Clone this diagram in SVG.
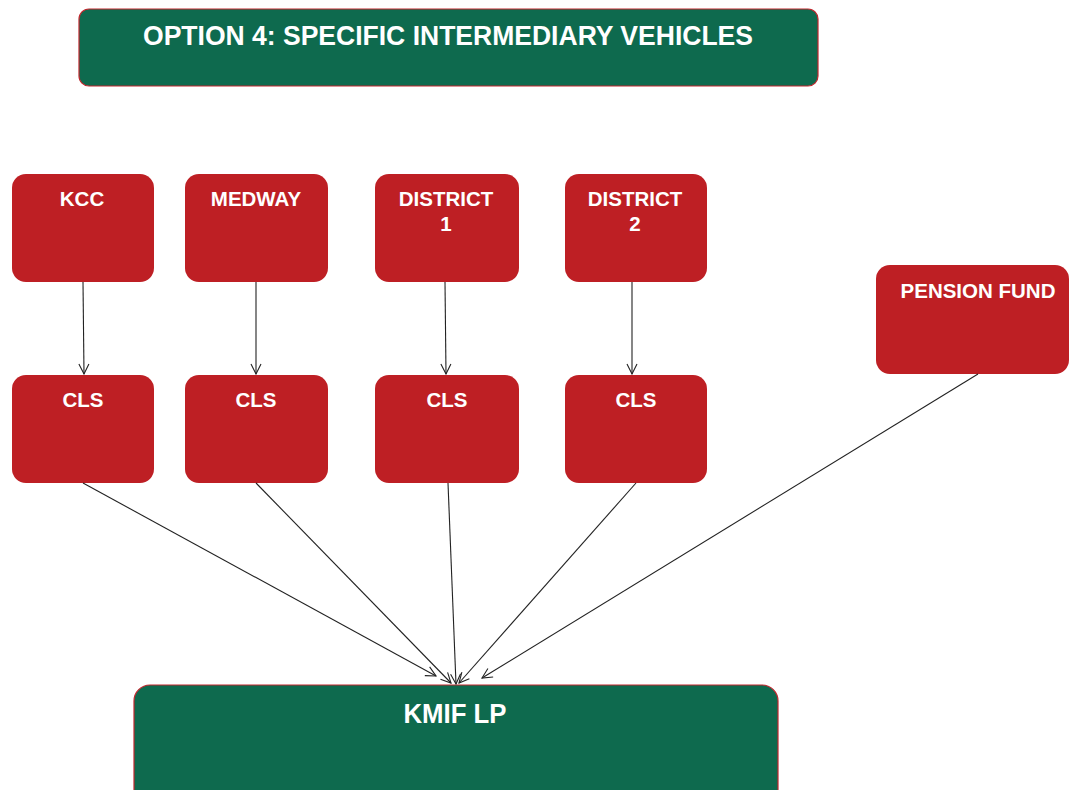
<svg xmlns="http://www.w3.org/2000/svg" width="1070" height="790" viewBox="0 0 1070 790">
<defs>
<marker id="ah" viewBox="0 0 12 12" refX="11" refY="6" markerWidth="12" markerHeight="12" markerUnits="userSpaceOnUse" orient="auto">
<path d="M1,1 L11,6 L1,11" fill="none" stroke="#222" stroke-width="1.1"/>
</marker>
<style>
.red{fill:#BE1F24;}
.grn{fill:#0E6A4E;stroke:#C0272D;stroke-width:1.2;}
.t{font-family:"Liberation Sans",Arial,sans-serif;font-weight:bold;fill:#fff;font-size:20.5px;text-anchor:middle;}
.tg{font-family:"Liberation Sans Narrow","Liberation Sans",Arial,sans-serif;font-weight:bold;fill:#fff;font-size:27px;text-anchor:middle;}
.c{stroke:#222;stroke-width:1.1;fill:none;marker-end:url(#ah);}
</style>
</defs>
<rect width="1070" height="790" fill="#fff"/>
<g id="title"><rect class="grn" x="79" y="9" width="739" height="77" rx="10"/><text class="tg" x="448" y="45" textLength="610" lengthAdjust="spacingAndGlyphs">OPTION 4: SPECIFIC INTERMEDIARY VEHICLES</text></g>
<g id="kcc"><rect class="red" x="12" y="174" width="142" height="108" rx="14"/><text class="t" x="82" y="206">KCC</text></g>
<g id="medway"><rect class="red" x="185" y="174" width="143" height="108" rx="14"/><text class="t" x="256" y="206">MEDWAY</text></g>
<g id="district1"><rect class="red" x="375" y="174" width="144" height="108" rx="14"/><text class="t" x="446" y="206">DISTRICT</text><text class="t" x="446" y="231">1</text></g>
<g id="district2"><rect class="red" x="565" y="174" width="142" height="108" rx="14"/><text class="t" x="635" y="206">DISTRICT</text><text class="t" x="635" y="231">2</text></g>
<g id="pension"><rect class="red" x="876" y="265" width="193" height="109" rx="14"/><text class="t" x="978" y="298">PENSION FUND</text></g>
<g id="cls1"><rect class="red" x="12" y="375" width="142" height="108" rx="14"/><text class="t" x="83" y="407">CLS</text></g>
<g id="cls2"><rect class="red" x="185" y="375" width="143" height="108" rx="14"/><text class="t" x="256" y="407">CLS</text></g>
<g id="cls3"><rect class="red" x="375" y="375" width="144" height="108" rx="14"/><text class="t" x="447" y="407">CLS</text></g>
<g id="cls4"><rect class="red" x="565" y="375" width="142" height="108" rx="14"/><text class="t" x="636" y="407">CLS</text></g>
<g id="kmif"><rect class="grn" x="134" y="685" width="644" height="120" rx="16"/><text class="tg" x="455" y="723" textLength="103" lengthAdjust="spacingAndGlyphs">KMIF LP</text></g>
<g id="connectors">
<line class="c" x1="83" y1="282" x2="84" y2="374"/>
<line class="c" x1="256" y1="282" x2="256" y2="374"/>
<line class="c" x1="445" y1="282" x2="446" y2="374"/>
<line class="c" x1="632" y1="282" x2="632" y2="374"/>
<line class="c" x1="83" y1="483" x2="436" y2="676"/>
<line class="c" x1="256" y1="483" x2="451" y2="683"/>
<line class="c" x1="448" y1="483" x2="456" y2="684"/>
<line class="c" x1="636" y1="483" x2="459" y2="683"/>
<line class="c" x1="978" y1="374" x2="482" y2="678"/>
</g>
</svg>
